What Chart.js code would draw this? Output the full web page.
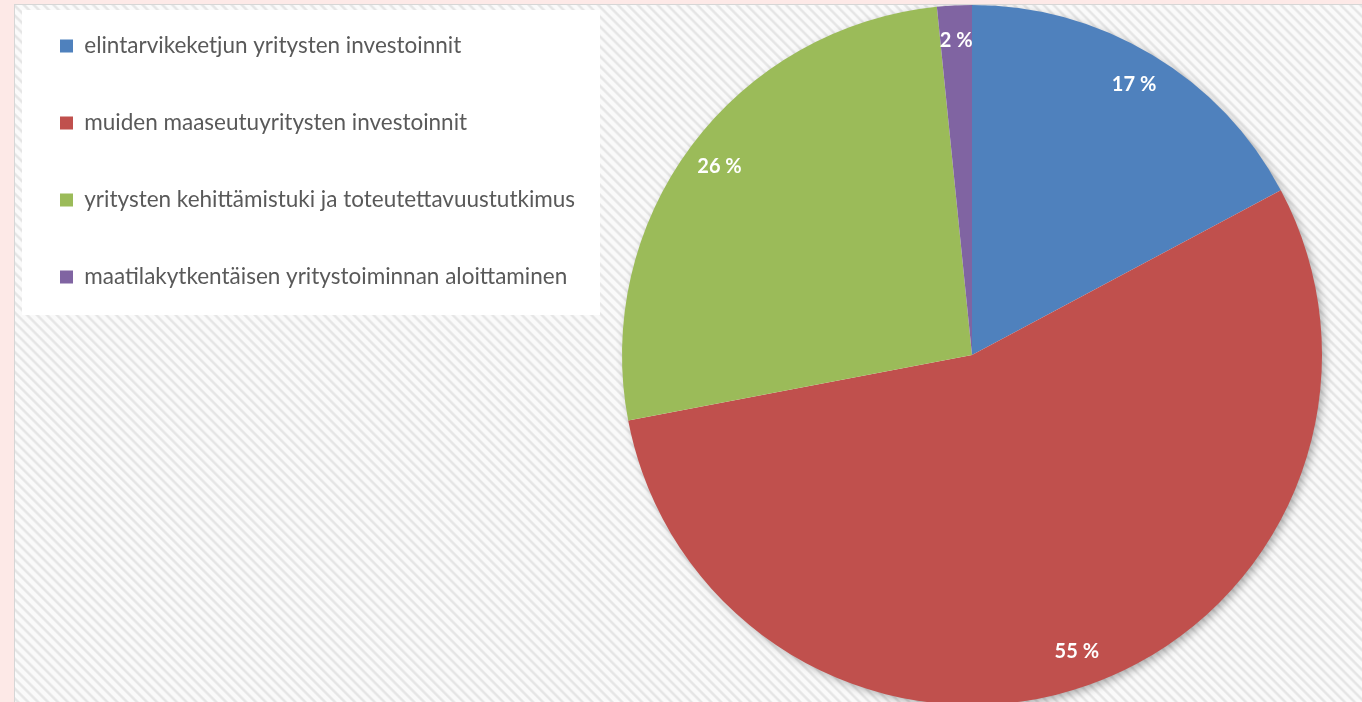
<!DOCTYPE html>
<html>
<head>
<meta charset="utf-8">
<script src="https://cdn.jsdelivr.net/npm/chart.js@4/dist/chart.umd.min.js"></script>
<style>
  html, body { margin: 0; padding: 0; width: 1362px; height: 702px; overflow: hidden; background: #fde9e7; }
  #panel {
    position: absolute; left: 14px; top: 4px; width: 1360px; height: 720px;
    border-left: 1px solid #d6d6d6; border-top: 1px solid #d6d6d6;
    background: repeating-linear-gradient(45deg, #fafafa 0px, #fafafa 2.5px, #e5e5e5 4px, #e5e5e5 5px, #fafafa 6.5px, #fafafa 7px);
  }
  #legendbg { position: absolute; left: 22px; top: 10px; width: 578px; height: 305px; background: #ffffff; }
  #c { position: absolute; left: 15px; top: 5px; }
</style>
</head>
<body>
<div id="panel"></div>
<div id="legendbg"></div>
<canvas id="c" width="1347" height="700"></canvas>
<script>
const categories = [
  "elintarvikeketjun yritysten investoinnit",
  "muiden maaseutuyritysten investoinnit",
  "yritysten kehittämistuki ja toteutettavuustutkimus",
  "maatilakytkentäisen yritystoiminnan aloittaminen"
];
const shares = [17.2, 54.8, 26.4, 1.6];
const colors = ["#4f81bd", "#c0504d", "#9bbb59", "#8064a2"];

const pieShadow = {
  id: 'pieShadow',
  beforeDatasetsDraw(chart) {
    const arc = chart.getDatasetMeta(0).data[0];
    if (!arc) return;
    const {x, y, outerRadius} = arc.getProps(['x', 'y', 'outerRadius'], true);
    const ctx = chart.ctx;
    ctx.save();
    ctx.shadowColor = 'rgba(0,0,0,0.35)';
    ctx.shadowBlur = 10;
    ctx.shadowOffsetX = 3;
    ctx.shadowOffsetY = 3;
    ctx.fillStyle = '#ffffff';
    ctx.beginPath();
    ctx.arc(x, y, outerRadius - 1, 0, Math.PI * 2);
    ctx.fill();
    ctx.restore();
  }
};

const sliceLabels = {
  id: 'sliceLabels',
  afterDatasetsDraw(chart) {
    const ctx = chart.ctx;
    const data = chart.data.datasets[0].data;
    const total = data.reduce((a, b) => a + b, 0);
    ctx.save();
    ctx.fillStyle = '#ffffff';
    ctx.font = 'bold 20px Lato';
    ctx.textAlign = 'center';
    ctx.textBaseline = 'middle';
    chart.getDatasetMeta(0).data.forEach((arc, i) => {
      const p = arc.getProps(['x', 'y', 'startAngle', 'endAngle', 'outerRadius'], true);
      const mid = (p.startAngle + p.endAngle) / 2;
      const r = p.outerRadius * 0.9;
      const txt = Math.round(data[i] / total * 100) + ' %';
      ctx.fillText(txt, p.x + Math.cos(mid) * r, p.y + Math.sin(mid) * r);
    });
    ctx.restore();
  }
};

const legendPlace = {
  id: 'legendPlace',
  afterLayout(chart) {
    const lg = chart.legend;
    if (!lg) return;
    const h = lg.height;
    lg.left = -9.5; lg.right = 600; lg.width = lg.right - lg.left;
    lg.top = -24.75; lg.bottom = lg.top + h;
  }
};

new Chart(document.getElementById('c'), {
  type: 'pie',
  data: {
    labels: categories,
    datasets: [{ data: shares, backgroundColor: colors, borderWidth: 0, hoverOffset: 0 }]
  },
  options: {
    responsive: false,
    animation: false,
    devicePixelRatio: 1,
    events: [],
    layout: { padding: { left: 267, right: 0, top: 0, bottom: 0 } },
    plugins: {
      tooltip: { enabled: false },
      legend: {
        position: 'left',
        align: 'start',
        maxWidth: 300,
        labels: {
          boxWidth: 13,
          boxHeight: 13,
          padding: 54.5,
          color: '#595959',
          font: { family: 'Lato', size: 22.5 }
        }
      }
    }
  },
  plugins: [pieShadow, sliceLabels, legendPlace]
});
</script>
</body>
</html>
